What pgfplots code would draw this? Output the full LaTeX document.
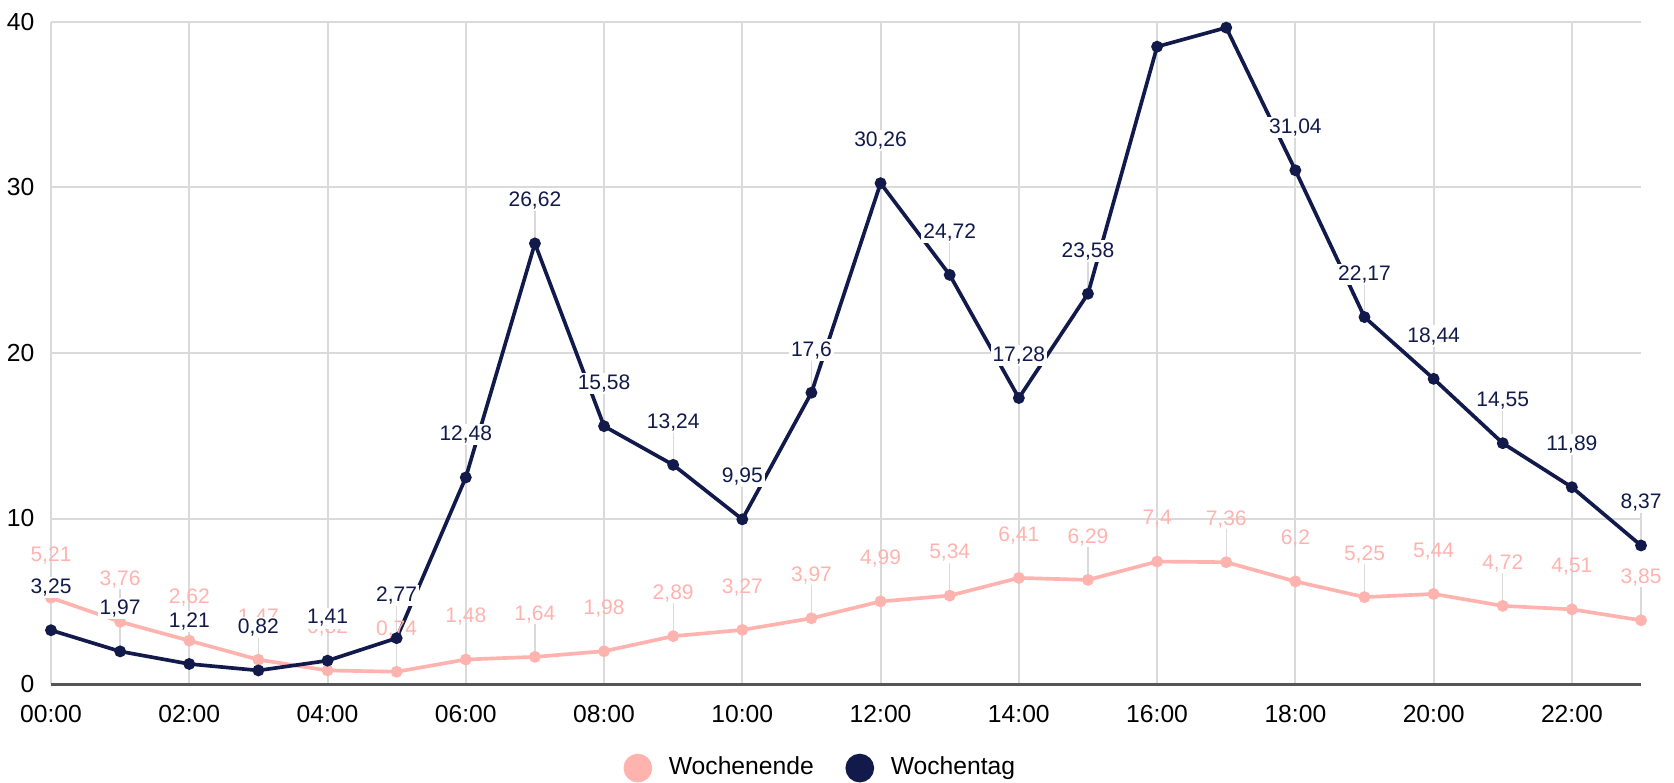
\documentclass[border=0pt]{standalone}
\usepackage{pgfplots}
\pgfplotsset{compat=1.18}
\usepackage{pgfplotstable}
\usepackage{fontspec}
\setmainfont{Liberation Sans}
\definecolor{navy}{HTML}{111A4A}
\definecolor{rosa}{HTML}{FFB3AF}
\definecolor{gridc}{HTML}{DADADA}
\definecolor{axc}{HTML}{555555}

\pgfplotstableread{
x y lab e
0 5.21 5,21 2
1 3.76 3,76 2
2 2.62 2,62 2
3 1.47 1,47 2
4 0.82 0,82 2
5 0.74 0,74 2
6 1.48 1,48 2
7 1.64 1,64 2
8 1.98 1,98 2
9 2.89 2,89 2
10 3.27 3,27 2
11 3.97 3,97 2
12 4.99 4,99 2
13 5.34 5,34 2
14 6.41 6,41 2
15 6.29 6,29 2
16 7.40 7,4 2
17 7.36 7,36 2
18 6.20 6,2 2
19 5.25 5,25 2
20 5.44 5,44 2
21 4.72 4,72 2
22 4.51 4,51 2
23 3.85 3,85 2
}\wochenende

\pgfplotstableread{
x y lab e
0 3.25 3,25 2
1 1.97 1,97 2
2 1.21 1,21 2
3 0.82 0,82 2
4 1.41 1,41 2
5 2.77 2,77 2
6 12.48 12,48 2
7 26.62 26,62 2
8 15.58 15,58 2
9 13.24 13,24 2
10 9.95 9,95 2
11 17.60 17,6 2
12 30.26 30,26 2
13 24.72 24,72 2
14 17.28 17,28 2
15 23.58 23,58 2
16 38.51 {} 0
17 39.66 {} 0
18 31.04 31,04 2
19 22.17 22,17 2
20 18.44 18,44 2
21 14.55 14,55 2
22 11.89 11,89 2
23 8.37 8,37 2
}\wochentag

\begin{document}
\begin{tikzpicture}
\begin{axis}[
  scale only axis,
  width=477pt, height=198.6pt,
  xmin=0, xmax=23, ymin=0, ymax=40,
  clip=false,
  axis lines=left,
  axis line style={-},
  y axis line style={draw=none},
  x axis line style={draw=axc, line width=0.9pt},
  xtick={0,2,...,22},
  xticklabels={00:00,02:00,04:00,06:00,08:00,10:00,12:00,14:00,16:00,18:00,20:00,22:00},
  ytick={0,10,20,30,40},
  major tick length=0pt,
  grid=major,
  major grid style={draw=gridc, line width=0.6pt},
  xticklabel style={font=\fontsize{7.4}{8.8}\selectfont, yshift=-3pt},
  yticklabel style={font=\fontsize{7.4}{8.8}\selectfont, xshift=-1.5pt},
  /pgf/number format/assume math mode=true,
  legend columns=2,
  legend style={at={(0.5,-0.127)}, anchor=center, xshift=-7pt, draw=none, fill=none,
    font=\fontsize{7.4}{8.8}\selectfont,
    /tikz/every even column/.append style={column sep=7.5pt},
    /tikz/every odd column/.append style={column sep=3pt}},
  point meta=explicit symbolic,
]
% leader lines
\addplot[draw=none, forget plot,
  error bars/.cd, y dir=plus, y explicit, error mark=none,
  error bar style={draw=gridc, line width=0.4pt}]
  table[x=x, y=y, y error plus=e] {\wochenende};
\addplot[draw=none, forget plot,
  error bars/.cd, y dir=plus, y explicit, error mark=none,
  error bar style={draw=gridc, line width=0.4pt}]
  table[x=x, y=y, y error plus=e] {\wochentag};

\addplot[rosa, line width=1.1pt, mark=*, mark size=1.2pt,
  mark options={fill=rosa, draw=rosa},
  nodes near coords,
  every node near coord/.append style={anchor=base, yshift=11pt,
     font=\fontsize{6.3}{7.3}\selectfont, text=rosa, inner sep=0.5pt},
  legend image code/.code={\fill[rosa] (3.75pt,0pt) circle (3.75pt);}]
  table[x=x, y=y, meta=lab] {\wochenende};
\addlegendentry{Wochenende}

\addplot[navy, line width=1.1pt, mark=*, mark size=1.2pt,
  mark options={fill=navy, draw=navy},
  nodes near coords,
  every node near coord/.append style={anchor=base, yshift=11pt,
     font=\fontsize{6.3}{7.3}\selectfont, text=navy, fill=white, inner sep=0.6pt},
  legend image code/.code={\fill[navy] (3.75pt,0pt) circle (3.75pt);}]
  table[x=x, y=y, meta=lab] {\wochentag};
\addlegendentry{Wochentag}
\end{axis}
\pgfresetboundingbox
\useasboundingbox (-15.3pt,-29.7pt) rectangle (486.9pt,205.2pt);
\end{tikzpicture}
\end{document}
